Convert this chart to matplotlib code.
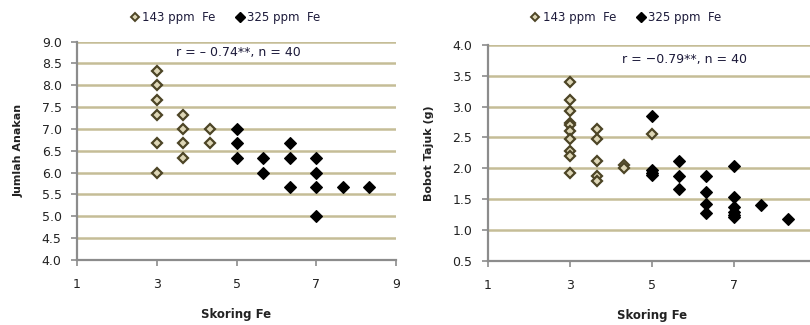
import matplotlib
matplotlib.use("Agg")
import matplotlib.pyplot as plt
from matplotlib.lines import Line2D

# ---- Data: left panel (Jumlah Anakan) ----
left_143_x = [3, 3, 3, 3, 3, 3, 3.67, 3.67, 3.67, 3.67, 4.33, 4.33]
left_143_y = [8.33, 8.0, 7.67, 7.33, 6.67, 6.0, 7.33, 7.0, 6.67, 6.33, 7.0, 6.67]
left_325_x = [5, 5, 5, 5.67, 5.67, 6.33, 6.33, 6.33, 7, 7, 7, 7, 7.67, 8.33]
left_325_y = [7.0, 6.67, 6.33, 6.33, 6.0, 6.67, 6.33, 5.67, 6.33, 6.0, 5.67, 5.0, 5.67, 5.67]

# ---- Data: right panel (Bobot Tajuk) ----
right_143_x = [3, 3, 3, 3, 3, 3, 3, 3, 3, 3,
               3.67, 3.67, 3.67, 3.67, 3.67, 4.33, 4.33, 5]
right_143_y = [3.40, 3.10, 2.93, 2.73, 2.70, 2.60, 2.47, 2.28, 2.20, 1.93,
               2.63, 2.47, 2.12, 1.88, 1.80, 2.05, 2.00, 2.55]
right_325_x = [5, 5, 5, 5, 5.67, 5.67, 5.67, 6.33, 6.33, 6.33, 6.33,
               7, 7, 7, 7, 7, 7, 7.67, 8.33]
right_325_y = [2.85, 1.98, 1.93, 1.90, 2.12, 1.87, 1.67, 1.87, 1.62, 1.42, 1.27,
               2.03, 1.53, 1.37, 1.30, 1.25, 1.22, 1.40, 1.18]

x_ticks = [1, 3, 5, 7, 9]
left_xlabels = ["1", "3", "5", "7", "9"]
right_xlabels = ["1", "3", "5", "7", ""]
left_yticks = [4.0, 4.5, 5.0, 5.5, 6.0, 6.5, 7.0, 7.5, 8.0, 8.5, 9.0]
right_yticks = [0.5, 1.0, 1.5, 2.0, 2.5, 3.0, 3.5, 4.0]
legend_labels = ["143 ppm  Fe", "325 ppm  Fe"]
left_note = "r = \u2013 0.74**, n = 40"
right_note = "r = \u22120.79**, n = 40"

GRID = "#c5bd97"
SPINE = "#8c8c8c"
TXT = "#1c1a3a"
OPEN_EDGE = "#4d4526"
OPEN_FACE = "#ddd6b6"

plt.rcParams['font.family'] = ['DejaVu Sans']

fig = plt.figure(figsize=(8.10, 3.25), dpi=100)

def style_axes(ax, yticks, ylabel, xlabel, xlabels):
    ax.set_xlim(1, 9)
    ax.set_ylim(yticks[0], yticks[-1])
    ax.set_xticks(x_ticks)
    ax.set_xticklabels(xlabels)
    ax.set_yticks(yticks)
    ax.set_yticklabels([f"{v:.1f}" for v in yticks])
    for v in yticks[1:]:
        ax.axhline(v, color=GRID, lw=1.8, zorder=1)
    for s in ["top", "right"]:
        ax.spines[s].set_visible(False)
    for s in ["left", "bottom"]:
        ax.spines[s].set_color(SPINE)
        ax.spines[s].set_linewidth(1.6)
    ax.tick_params(axis="both", colors=SPINE, length=4, width=1.2,
                   labelcolor="#222222", labelsize=9)
    ax.tick_params(axis="y", pad=7)
    ax.tick_params(axis="x", pad=9)
    ax.set_ylabel(ylabel, fontsize=8, fontweight="bold", color="#222222", labelpad=13)
    ax.set_xlabel(xlabel, fontsize=8.5, fontweight="bold", color="#222222", labelpad=12)

def draw(ax, x1, y1, x2, y2):
    ax.plot(x1, y1, linestyle="none", marker="D", ms=5.4, mfc=OPEN_FACE,
            mec=OPEN_EDGE, mew=1.6, zorder=3, clip_on=False)
    ax.plot(x2, y2, linestyle="none", marker="D", ms=6.2, mfc="black",
            mec="black", mew=0.8, zorder=3, clip_on=False)

def legend(ax, x0):
    h = [Line2D([], [], linestyle="none", marker="D", ms=4.5, mfc=OPEN_FACE,
                mec=OPEN_EDGE, mew=1.4),
         Line2D([], [], linestyle="none", marker="D", ms=5.5, mfc="black", mec="black")]
    return fig.legend(h, legend_labels, loc="center", bbox_to_anchor=(x0, 0.945),
                      ncol=2, frameon=False, fontsize=8.5, handletextpad=0.1,
                      columnspacing=1.6, handlelength=1.0, labelcolor=TXT)

# Left panel
ax1 = fig.add_axes([0.095, 0.20, 0.394, 0.672])
style_axes(ax1, left_yticks, "Jumlah Anakan", "Skoring Fe", left_xlabels)
draw(ax1, left_143_x, left_143_y, left_325_x, left_325_y)
ax1.text(5.05, 8.75, left_note, ha="center", va="center", fontsize=9, color=TXT)
legend(ax1, 0.277)

# Right panel
ax2 = fig.add_axes([0.602, 0.197, 0.405, 0.665])
style_axes(ax2, right_yticks, "Bobot Tajuk (g)", "Skoring Fe", right_xlabels)
draw(ax2, right_143_x, right_143_y, right_325_x, right_325_y)
ax2.text(5.8, 3.77, right_note, ha="center", va="center", fontsize=9, color=TXT)
legend(ax2, 0.772)

fig.savefig("out.png", dpi=100)
